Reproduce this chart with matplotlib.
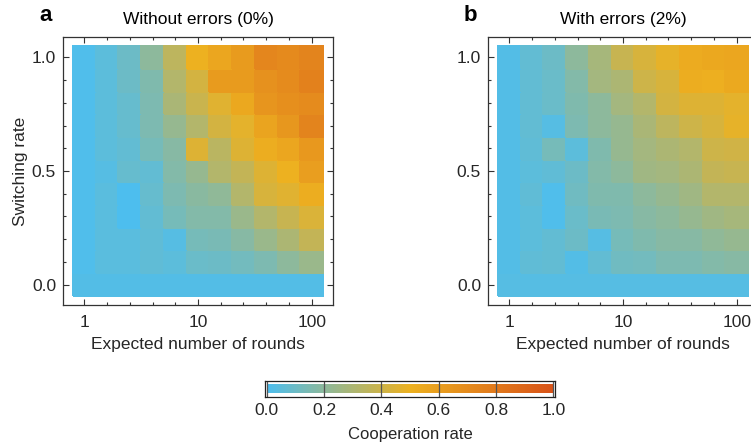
import numpy as np
import matplotlib.pyplot as plt
from matplotlib.colors import LinearSegmentedColormap
from matplotlib.ticker import FixedLocator, NullFormatter

plt.rcParams['font.family'] = ['Liberation Sans', 'DejaVu Sans']

# expected number of rounds (x, log spaced) and switching rate (y)
rounds = [1, 1.585, 2.512, 3.981, 6.31, 10, 15.85, 25.12, 39.81, 63.1, 100]
switching = [0.0, 0.1, 0.2, 0.3, 0.4, 0.5, 0.6, 0.7, 0.8, 0.9, 1.0]

# cooperation rate, rows listed from switching rate 1.0 (top) down to 0.0
coop_no_err = [
    [0.01, 0.05, 0.10, 0.20, 0.35, 0.50, 0.56, 0.62, 0.73, 0.71, 0.74],
    [0.01, 0.05, 0.10, 0.16, 0.32, 0.42, 0.62, 0.62, 0.67, 0.70, 0.75],
    [0.01, 0.05, 0.08, 0.15, 0.29, 0.39, 0.46, 0.55, 0.65, 0.68, 0.70],
    [0.01, 0.05, 0.08, 0.15, 0.23, 0.32, 0.42, 0.47, 0.57, 0.64, 0.74],
    [0.01, 0.05, 0.07, 0.13, 0.18, 0.45, 0.34, 0.45, 0.52, 0.56, 0.63],
    [0.01, 0.03, 0.08, 0.07, 0.17, 0.23, 0.32, 0.37, 0.45, 0.50, 0.60],
    [0.01, 0.04, 0.00, 0.08, 0.15, 0.19, 0.21, 0.32, 0.43, 0.46, 0.52],
    [0.01, 0.04, 0.00, 0.07, 0.13, 0.17, 0.17, 0.24, 0.32, 0.38, 0.44],
    [0.01, 0.04, 0.04, 0.06, 0.03, 0.13, 0.14, 0.18, 0.24, 0.30, 0.37],
    [0.01, 0.04, 0.04, 0.06, 0.05, 0.09, 0.10, 0.12, 0.15, 0.20, 0.24],
    [0.02, 0.02, 0.02, 0.02, 0.02, 0.02, 0.02, 0.02, 0.02, 0.02, 0.02],
]
coop_err = [
    [0.02, 0.07, 0.10, 0.20, 0.28, 0.38, 0.43, 0.48, 0.53, 0.55, 0.56],
    [0.02, 0.07, 0.09, 0.17, 0.27, 0.30, 0.40, 0.43, 0.52, 0.51, 0.54],
    [0.02, 0.07, 0.09, 0.16, 0.20, 0.27, 0.32, 0.42, 0.45, 0.45, 0.47],
    [0.02, 0.07, 0.03, 0.15, 0.20, 0.23, 0.29, 0.35, 0.40, 0.43, 0.48],
    [0.02, 0.06, 0.13, 0.05, 0.16, 0.23, 0.27, 0.30, 0.32, 0.40, 0.41],
    [0.02, 0.05, 0.06, 0.10, 0.17, 0.20, 0.26, 0.27, 0.30, 0.37, 0.38],
    [0.02, 0.06, 0.01, 0.11, 0.16, 0.16, 0.20, 0.23, 0.26, 0.32, 0.32],
    [0.02, 0.05, 0.01, 0.09, 0.14, 0.15, 0.18, 0.20, 0.23, 0.26, 0.28],
    [0.02, 0.05, 0.07, 0.10, 0.03, 0.13, 0.16, 0.18, 0.18, 0.21, 0.23],
    [0.02, 0.06, 0.07, 0.02, 0.07, 0.11, 0.12, 0.15, 0.15, 0.17, 0.18],
    [0.03, 0.03, 0.03, 0.03, 0.03, 0.03, 0.03, 0.03, 0.03, 0.03, 0.03],
]

cmap = LinearSegmentedColormap.from_list('coop', ['#4DBEEE', '#EDB120', '#D95319'])
txt = '#262626'
W, H = 751, 445
fs_tick = 12.5
fs_lab = 12.5


def edges(c, log=False):
    c = np.log10(c) if log else np.asarray(c, float)
    mid = (c[1:] + c[:-1]) / 2
    e = np.concatenate([[c[0] - (mid[0] - c[0])], mid, [c[-1] + (c[-1] - mid[-1])]])
    return 10 ** e if log else e


def panel(ax, data, title, letter, ylabel):
    z = np.array(data)[::-1]
    xe = edges(rounds, log=True)
    ye = edges(switching)
    ax.pcolormesh(xe, ye, z, cmap=cmap, vmin=0, vmax=1, shading='flat',
                  edgecolors='face', linewidth=0.3)
    ax.set_xscale('log')
    ax.set_xlim(10 ** -0.188, 10 ** 2.188)
    ax.set_ylim(-0.09, 1.09)
    ax.xaxis.set_major_locator(FixedLocator([1, 10, 100]))
    ax.set_xticklabels(['1', '10', '100'])
    ax.xaxis.set_minor_locator(FixedLocator([r for r in rounds if r not in (1, 10, 100)]))
    ax.xaxis.set_minor_formatter(NullFormatter())
    ax.yaxis.set_major_locator(FixedLocator([0, 0.5, 1.0]))
    ax.set_yticklabels(['0.0', '0.5', '1.0'])
    ax.yaxis.set_minor_locator(FixedLocator(switching))
    ax.tick_params(which='both', direction='in', top=True, right=True,
                   color='#333333', width=0.8, labelsize=fs_tick, labelcolor=txt, pad=5)
    ax.tick_params(axis='x', which='major', pad=7.5)
    ax.tick_params(which='major', length=4.5)
    ax.tick_params(which='minor', length=2.5)
    for s in ax.spines.values():
        s.set_color('#333333')
        s.set_linewidth(0.9)
    ax.set_xlabel('Expected number of rounds', fontsize=fs_lab, color=txt, labelpad=5)
    if ylabel:
        ax.set_ylabel('Switching rate', fontsize=fs_lab, color=txt, labelpad=3)
    ax.set_title(title, fontsize=fs_lab, color='black', pad=9.5)
    ax.text(-0.04, 1.04, letter, transform=ax.transAxes, fontsize=16,
            fontweight='bold', ha='right', va='bottom')


fig = plt.figure(figsize=(W / 100, H / 100), dpi=100)

ax1 = fig.add_axes([63 / W, 1 - 305 / H, 270 / W, 268 / H])
ax2 = fig.add_axes([488 / W, 1 - 305 / H, 270 / W, 268 / H])
panel(ax1, coop_no_err, 'Without errors (0%)', 'a', True)
panel(ax2, coop_err, 'With errors (2%)', 'b', False)

# colorbar
cax = fig.add_axes([265 / W, 1 - 397 / H, 290 / W, 16 / H])
grad = np.linspace(0, 1, 256)[None, :]
cax.imshow(grad, cmap=cmap, aspect='auto', extent=(0, 1, 0, 1), vmin=0, vmax=1)
cax.set_xlim(-0.006, 1.006)
cax.set_ylim(-0.45, 1.45)
cax.set_yticks([])
cax.set_xticks([0, 0.2, 0.4, 0.6, 0.8, 1.0])
cax.set_xticklabels(['0.0', '0.2', '0.4', '0.6', '0.8', '1.0'])
cax.tick_params(direction='in', length=11.5, width=0.9, color='#555555',
                labelsize=fs_tick, labelcolor=txt, pad=4.5)
for s in cax.spines.values():
    s.set_color('#222222')
    s.set_linewidth(0.9)
cax.set_xlabel('Cooperation rate', fontsize=fs_lab - 0.5, color=txt, labelpad=6)

fig.savefig('out.png', dpi=100)
